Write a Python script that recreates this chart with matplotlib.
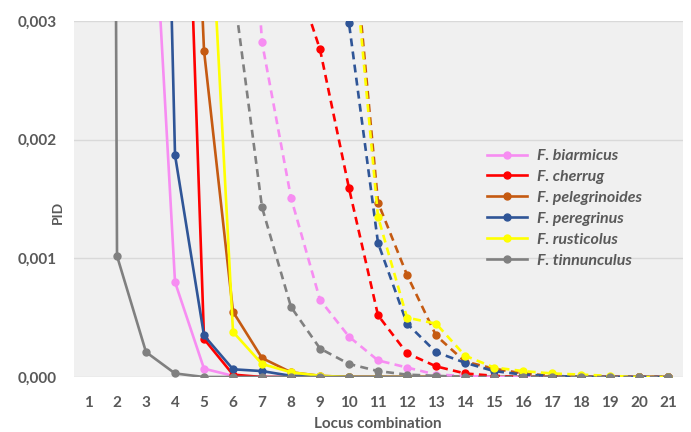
import matplotlib
matplotlib.use('Agg')
import matplotlib.pyplot as plt
from matplotlib.ticker import FuncFormatter
import numpy as np

plt.rcParams['font.family'] = ['Lato', 'DejaVu Sans']

loci = list(range(1, 22))

species = ['F. biarmicus', 'F. cherrug', 'F. pelegrinoides', 'F. peregrinus',
           'F. rusticolus', 'F. tinnunculus']
colors = ['#F78DF2', '#FF0000', '#C55A11', '#2F5597', '#FFFF00', '#808080']

# PID (solid)
bia_pid = [0.05, 0.02, 0.0052, 0.0008, 0.00007, 0.00001, 0, 0, 0, 0, 0, 0, 0, 0, 0, 0, 0, 0, 0, 0, 0]
che_pid = [0.1, 0.05, 0.02, 0.0075, 0.00032, 0.00002, 0, 0, 0, 0, 0, 0, 0, 0, 0, 0, 0, 0, 0, 0, 0]
pel_pid = [0.1, 0.06, 0.03, 0.0084, 0.00275, 0.00055, 0.00016, 0.00004, 0.00001, 0, 0, 0, 0, 0, 0, 0, 0, 0, 0, 0, 0]
per_pid = [0.15, 0.08, 0.012, 0.00187, 0.00035, 0.000065, 0.00005, 0.00001, 0, 0, 0, 0, 0, 0, 0, 0, 0, 0, 0, 0, 0]
rus_pid = [0.1, 0.05, 0.02, 0.01, 0.005, 0.00038, 0.00011, 0.00004, 0.00001, 0, 0, 0, 0, 0, 0, 0, 0, 0, 0, 0, 0]
tin_pid = [0.06, 0.00102, 0.00021, 0.00003, 0, 0, 0, 0, 0, 0, 0, 0, 0, 0, 0, 0, 0, 0, 0, 0, 0]

# PIDsib (dashed)
bia_sib = [0.3, 0.15, 0.08, 0.04, 0.018, 0.0065, 0.00282, 0.00151, 0.00065, 0.00034, 0.00014, 0.00008, 0.00002, 0.00001, 0, 0, 0, 0, 0, 0, 0]
che_sib = [0.5, 0.3, 0.15, 0.08, 0.04, 0.018, 0.008, 0.0035, 0.00276, 0.00159, 0.00052, 0.0002, 0.00009, 0.00003, 0.00001, 0, 0, 0, 0, 0, 0]
pel_sib = [0.6, 0.4, 0.2, 0.1, 0.05, 0.03, 0.015, 0.009, 0.006, 0.0041, 0.00147, 0.00086, 0.00035, 0.00013, 0.00007, 0.00003, 0.00001, 0, 0, 0, 0]
per_sib = [0.6, 0.4, 0.2, 0.1, 0.05, 0.03, 0.018, 0.012, 0.008, 0.00298, 0.00113, 0.00045, 0.00021, 0.00012, 0.00005, 0.00002, 0.00001, 0, 0, 0, 0]
rus_sib = [0.6, 0.4, 0.2, 0.1, 0.05, 0.03, 0.015, 0.009, 0.0065, 0.004, 0.00135, 0.0005, 0.00045, 0.00018, 0.00008, 0.00005, 0.00003, 0.00002, 0.00001, 0, 0]
tin_sib = [0.2, 0.1, 0.05, 0.02, 0.008, 0.0033, 0.00143, 0.00059, 0.00024, 0.00011, 0.00005, 0.00002, 0.00001, 0, 0, 0, 0, 0, 0, 0, 0]

pid = [bia_pid, che_pid, pel_pid, per_pid, rus_pid, tin_pid]
sib = [bia_sib, che_sib, pel_sib, per_sib, rus_sib, tin_sib]

fig = plt.figure(figsize=(6.91, 4.32), dpi=100)
ax = fig.add_axes([0.1064, 0.1273, 0.8813, 0.8241])
ax.set_facecolor('#F0F0F0')

handles = []
for vals, c, name in zip(pid, colors, species):
    h, = ax.plot(loci, vals, color=c, lw=1.9, marker='o', ms=5, label=name)
    handles.append(h)
for vals, c in zip(sib, colors):
    ax.plot(loci, vals, color=c, lw=1.9, marker='o', ms=5, dashes=(3, 2))

ax.set_xlim(0.5, 21.5)
ax.set_ylim(0, 0.003)
ax.set_yticks([0, 0.001, 0.002, 0.003])
ax.yaxis.set_major_formatter(FuncFormatter(lambda v, p: f'{v:.3f}'.replace('.', ',')))
ax.set_xticks(loci)
ax.grid(axis='y', color='#D9D9D9', lw=1)
ax.set_axisbelow(True)
for s in ax.spines.values():
    s.set_visible(False)
ax.tick_params(length=0, labelsize=11, labelcolor='#595959')
ax.tick_params(axis='y', pad=12)
ax.tick_params(axis='x', pad=14)
for lab in ax.get_xticklabels() + ax.get_yticklabels():
    lab.set_fontweight('bold')

ax.set_xlabel('Locus combination', fontsize=11, fontweight='bold', color='#595959', labelpad=5)
fig.text(58 / 691, 1 - 212 / 432, 'PID', rotation=90, ha='center', va='center',
         fontsize=10, fontweight='bold', color='#595959')

leg = fig.legend(handles=handles, loc='upper left', bbox_to_anchor=(487 / 691, 1 - 149 / 432),
                 frameon=False, borderpad=0, borderaxespad=0, handlelength=2.5,
                 handletextpad=0.6, labelspacing=0.42,
                 prop={'size': 11.5, 'style': 'italic', 'weight': 'bold'})
for t in leg.get_texts():
    t.set_color('#595959')

fig.savefig('out.png', dpi=100)
